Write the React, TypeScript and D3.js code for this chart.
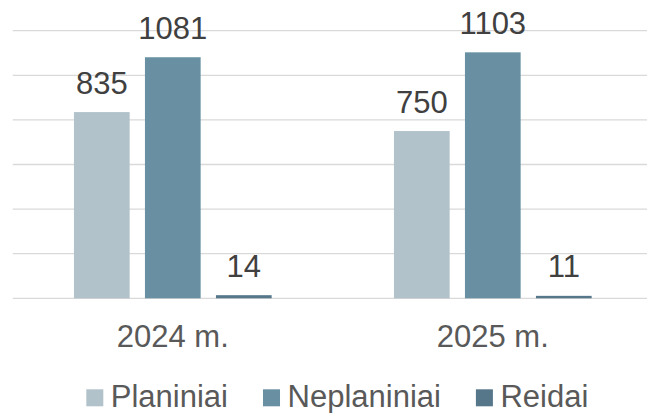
import React, { useEffect, useRef } from "react";
import * as d3 from "d3";

const categories = ["2024 m.", "2025 m."];
const seriesNames = ["Planiniai", "Neplaniniai", "Reidai"];
const planiniai = [835, 750];
const neplaniniai = [1081, 1103];
const reidai = [14, 11];
const yTicks = [0, 200, 400, 600, 800, 1000, 1200];

const colors = ["#b1c2cb", "#6890a2", "#56778a"];

const App: React.FC = () => {
  const svgRef = useRef<SVGSVGElement>(null);
  const width = 647;
  const height = 413;
  const margin = { top: 30.7, left: 12.8, right: -5.8, bottom: 114.7 };

  useEffect(() => {
    if (!svgRef.current) return;
    const svg = d3.select(svgRef.current);
    svg.selectAll("*").remove();

    const values = [planiniai, neplaniniai, reidai];
    const data = categories.map((c, i) => ({
      category: c,
      items: seriesNames.map((s, j) => ({ series: s, value: values[j][i] })),
    }));

    const x0 = d3
      .scaleBand()
      .domain(categories)
      .range([margin.left, width - margin.right])
      .paddingInner(0)
      .paddingOuter(0);

    // group width ~198 of 320 band, bar ~55.7, gap ~15.3
    const groupW = 197.7;
    const x1 = d3
      .scaleBand()
      .domain(seriesNames)
      .range([0, groupW])
      .paddingInner(15.3 / 71);

    const y = d3
      .scaleLinear()
      .domain([0, 1200])
      .range([height - margin.bottom, margin.top]);

    // gridlines
    svg
      .append("g")
      .selectAll("line")
      .data(yTicks)
      .join("line")
      .attr("x1", margin.left)
      .attr("x2", width)
      .attr("y1", (d) => y(d))
      .attr("y2", (d) => y(d))
      .attr("stroke", "#d9d9d9")
      .attr("stroke-width", 1.3);

    const groups = svg
      .append("g")
      .selectAll("g")
      .data(data)
      .join("g")
      .attr(
        "transform",
        (d) =>
          `translate(${(x0(d.category) as number) + (x0.bandwidth() - groupW) / 2},0)`
      );

    groups
      .selectAll("rect")
      .data((d) => d.items)
      .join("rect")
      .attr("x", (d) => x1(d.series) as number)
      .attr("width", x1.bandwidth())
      .attr("y", (d) => y(d.value))
      .attr("height", (d) => y(0) - y(d.value))
      .attr("fill", (_, i) => colors[i]);

    groups
      .selectAll("text")
      .data((d) => d.items)
      .join("text")
      .attr("x", (d) => (x1(d.series) as number) + x1.bandwidth() / 2)
      .attr("y", (d) => y(d.value) - 18.5)
      .attr("text-anchor", "middle")
      .attr("font-family", "'Liberation Sans', Arial, sans-serif")
      .attr("font-size", 31)
      .attr("fill", "#404040")
      .text((d) => d.value);

    // category labels
    svg
      .append("g")
      .selectAll("text")
      .data(categories)
      .join("text")
      .attr("x", (d) => (x0(d) as number) + x0.bandwidth() / 2)
      .attr("y", 346.7)
      .attr("text-anchor", "middle")
      .attr("font-family", "'Liberation Sans', Arial, sans-serif")
      .attr("font-size", 31)
      .attr("fill", "#595959")
      .text((d) => d);

    // legend
    const legend = svg.append("g");
    const items = legend
      .selectAll("g")
      .data(seriesNames)
      .join("g");
    items
      .append("rect")
      .attr("width", 17)
      .attr("height", 17)
      .attr("y", 389.3)
      .attr("fill", (_, i) => colors[i]);
    items
      .append("text")
      .attr("x", 24.5)
      .attr("y", 406.7)
      .attr("font-family", "'Liberation Sans', Arial, sans-serif")
      .attr("font-size", 31)
      .attr("fill", "#595959")
      .text((d) => d);

    const widths: number[] = [];
    items.each(function () {
      const t = d3.select(this).select("text").node() as SVGTextElement;
      widths.push(24.5 + t.getComputedTextLength());
    });
    const gap = 35;
    const total = d3.sum(widths) + gap * (widths.length - 1);
    let cx = 337.3 - total / 2;
    items.attr("transform", (_, i) => {
      const tx = cx;
      cx += widths[i] + gap;
      return `translate(${tx},0)`;
    });
  }, []);

  return (
    <svg
      ref={svgRef}
      width={width}
      height={height}
      style={{ position: "absolute", left: 0, top: 0, background: "#fff" }}
    ></svg>
  );
};

export default App;
